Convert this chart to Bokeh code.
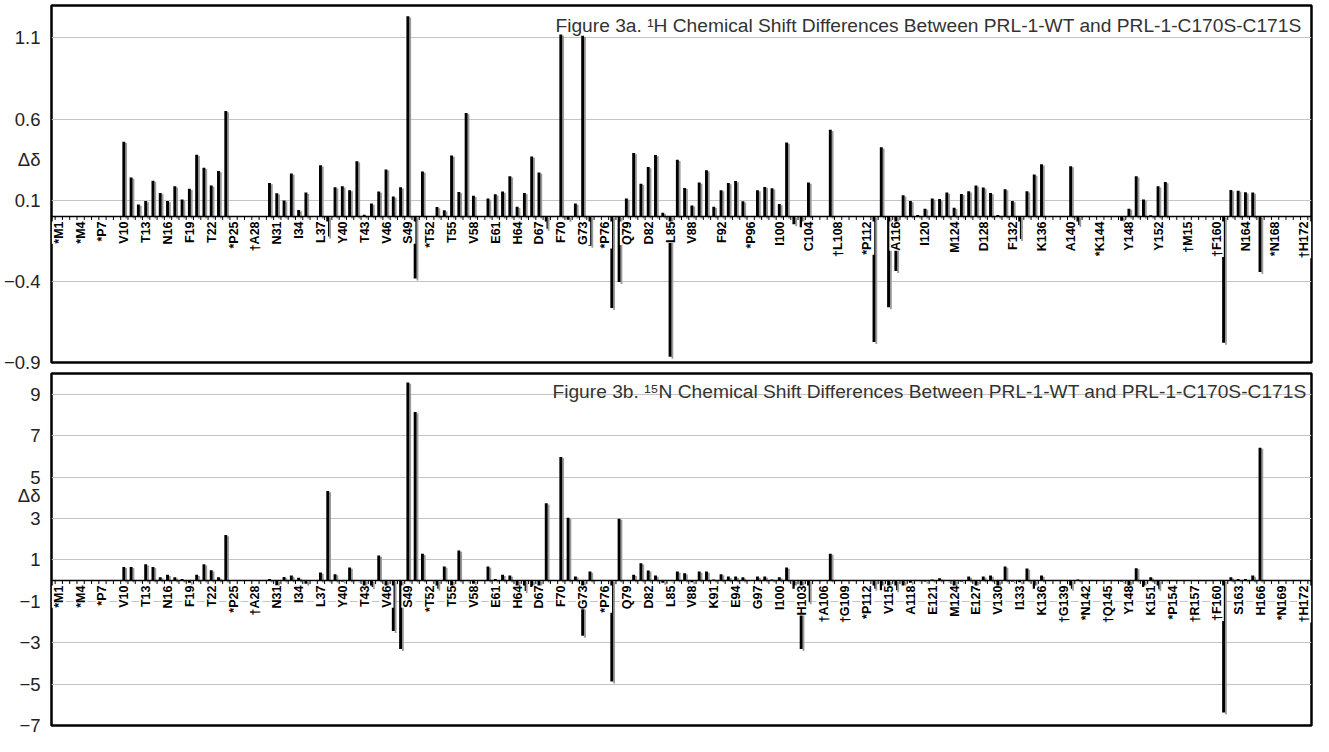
import numpy as np
from bokeh.plotting import figure
from bokeh.models import Range1d, FixedTicker, Span
from bokeh.layouts import column
from bokeh.embed import file_html
from bokeh.resources import INLINE
from bokeh.core.properties import value

# ---------------- data ----------------
residues = [10, 11, 12, 13, 14, 15, 16, 17, 18, 19, 20, 21, 22, 23, 24,
            30, 31, 32, 33, 34, 35,
            37, 38, 39, 40, 41, 42, 43, 44, 45, 46, 47, 48, 49, 50, 51,
            53, 54, 55, 56, 57, 58,
            60, 61, 62, 63, 64, 65, 66, 67, 68,
            70, 71, 72, 73, 74,
            77, 78, 79, 80, 81, 82, 83, 84, 85, 86, 87, 88, 89, 90, 91, 92, 93, 94, 95,
            97, 98, 99, 100, 101, 102, 103, 104,
            107,
            113, 114, 115, 116, 117, 118, 119, 120, 121, 122, 123, 124, 125, 126, 127, 128,
            129, 130, 131, 132, 133, 134, 135, 136,
            140, 141,
            147, 148, 149, 150, 151, 152, 153,
            161, 162, 163, 164, 165, 166]

h_shift = [0.46, 0.24, 0.074, 0.095, 0.22, 0.145, 0.095, 0.186, 0.105, 0.17, 0.38, 0.30, 0.19, 0.28, 0.65,
           0.206, 0.143, 0.099, 0.265, 0.04, 0.147,
           0.316, -0.123, 0.18, 0.186, 0.162, 0.34, 0.01, 0.08, 0.154, 0.29, 0.123, 0.18, 1.233, -0.383, 0.277,
           0.058, 0.038, 0.375, 0.151, 0.637, 0.127,
           0.111, 0.137, 0.154, 0.247, 0.06, 0.145, 0.369, 0.271, -0.076,
           1.121, -0.021, 0.08, 1.113, -0.18,
           -0.564, -0.404, 0.111, 0.391, 0.202, 0.304, 0.379, 0.023, -0.865, 0.349, 0.176, 0.068, 0.209,
           0.284, 0.06, 0.162, 0.206, 0.218, 0.093,
           0.162, 0.182, 0.174, 0.076, 0.456, -0.048, -0.066, 0.209,
           0.534,
           -0.773, 0.426, -0.56, -0.336, 0.131, 0.095, 0.009, 0.048, 0.111, 0.107, 0.147, 0.054, 0.139,
           0.155, 0.19, 0.178, 0.145, 0.009, 0.168, 0.095, -0.139, 0.155, 0.259, 0.322,
           0.31, -0.052,
           -0.027, 0.048, 0.247, 0.105, 0.007, 0.186, 0.212,
           -0.778, 0.163, 0.159, 0.149, 0.147, -0.342]

n_shift = [0.66, 0.66, 0.0, 0.79, 0.66, 0.16, 0.28, 0.16, 0.08, -0.11, 0.28, 0.79, 0.5, 0.16, 2.2,
           0.08, -0.24, 0.17, 0.24, 0.14, -0.16,
           0.39, 4.32, 0.31, -0.05, 0.63, 0.0, -0.55, -0.31, 1.21, -0.55, -2.44, -3.30, 9.56, 8.14, 1.29,
           -0.39, 0.68, -0.55, 1.45, 0.0, -0.16,
           0.68, 0.08, 0.28, 0.24, -0.39, -0.50, -0.31, -0.39, 3.73,
           5.97, 3.03, 0.2, -2.67, 0.44,
           -4.87, 2.99, 0.0, 0.28, 0.83, 0.49, 0.24, -0.11, 0.0, 0.44, 0.35, -0.08, 0.44, 0.44, 0.05,
           0.31, 0.19, 0.19, 0.16,
           0.19, 0.19, 0.05, 0.16, 0.63, -0.39, -3.30, -1.05,
           1.30,
           -0.39, -0.47, -0.55, -0.47, -0.24, -0.1, 0.0, -0.05, 0.05, 0.11, 0.0, -0.31, -0.05, 0.19,
           -0.28, 0.2, 0.24, -0.31, 0.68, -0.05, -0.08, 0.58, -0.39, 0.24,
           -0.39, 0.05,
           -0.05, -0.39, 0.6, -0.31, 0.16, -0.42, 0.0,
           -6.37, 0.16, 0.08, 0.08, 0.24, 6.42]

top_label_pos = [1, 4, 7, 10, 13, 16, 19, 22, 25, 28, 31, 34, 37, 40, 43, 46, 49, 52, 55, 58,
                 61, 64, 67, 70, 73, 76, 79, 82, 85, 88, 92, 96, 100, 104, 108, 112, 116, 120,
                 124, 128, 132, 136, 140, 144, 148, 152, 156, 160, 164, 168, 172]
top_label_txt = ["*M1", "*M4", "*P7", "V10", "T13", "N16", "F19", "T22", "*P25", "†A28",
                 "N31", "I34", "L37", "Y40", "T43", "V46", "S49", "*T52", "T55", "V58",
                 "E61", "H64", "D67", "F70", "G73", "*P76", "Q79", "D82", "L85", "V88",
                 "F92", "*P96", "I100", "C104", "†L108", "*P112", "A116", "I120", "M124", "D128",
                 "F132", "K136", "A140", "*K144", "Y148", "Y152", "†M15", "†F160", "N164", "*N168",
                 "†H172"]

bot_label_pos = [1, 4, 7, 10, 13, 16, 19, 22, 25, 28, 31, 34, 37, 40, 43, 46, 49, 52, 55, 58,
                 61, 64, 67, 70, 73, 76, 79, 82, 85, 88, 91, 94, 97, 100, 103, 106, 109, 112, 115,
                 118, 121, 124, 127, 130, 133, 136, 139, 142, 145, 148, 151, 154, 157, 160, 163,
                 166, 169, 172]
bot_label_txt = ["*M1", "*M4", "*P7", "V10", "T13", "N16", "F19", "T22", "*P25", "†A28",
                 "N31", "I34", "L37", "Y40", "T43", "V46", "S49", "*T52", "T55", "V58",
                 "E61", "H64", "D67", "F70", "G73", "*P76", "Q79", "D82", "L85", "V88",
                 "K91", "E94", "G97", "I100", "H103", "†A106", "†G109", "*P112", "V115", "A118",
                 "E121", "M124", "E127", "V130", "I133", "K136", "†G139", "*N142", "†Q145", "Y148",
                 "K151", "*P154", "†R157", "†F160", "S163", "H166", "*N169", "†H172"]

top_ticks = [-0.9, -0.4, 0.1, 0.6, 1.1]
bot_ticks = [-7, -5, -3, -1, 1, 3, 5, 7, 9]
top_title = "Figure 3a. ¹H Chemical Shift Differences Between PRL-1-WT and PRL-1-C170S-C171S"
bot_title = "Figure 3b. ¹⁵N Chemical Shift Differences Between PRL-1-WT and PRL-1-C170S-C171S"
axis_name = "Δδ"
top_name_at = 0.35
bot_name_at = 4.1

# ---------------- layout ----------------
X0, X1 = 0.0, 173.0
W = 1313
LEFT = 38
RIGHT = 2
FRAME_W = W - LEFT - RIGHT
PX_X = FRAME_W / (X1 - X0)


def panel(vals, ymin, ymax, ticks, lab_pos, lab_txt, title, title_dx, title_dy, name_at,
          frame_h, b_top, b_bot):
    px_y = frame_h / (ymax - ymin)
    p = figure(width=W, height=frame_h + b_top + b_bot, title=None,
               x_range=Range1d(X0, X1), y_range=Range1d(ymin, ymax),
               output_backend="svg", toolbar_location=None, x_axis_location=None,
               min_border_left=LEFT, min_border_right=RIGHT,
               min_border_top=b_top, min_border_bottom=b_bot)
    p.background_fill_color = "white"
    p.border_fill_color = "white"
    p.outline_line_color = "black"
    p.outline_line_width = 2.5

    # axis ticks (+ the Δδ name as an extra labelled tick), grid only on real ticks
    p.yaxis.ticker = FixedTicker(ticks=ticks + [name_at])
    p.yaxis.major_label_overrides = {name_at: axis_name}
    p.ygrid.ticker = FixedTicker(ticks=ticks)
    p.ygrid.grid_line_color = "#c4c4c4"
    p.ygrid.grid_line_width = 1.2
    p.xgrid.visible = False
    p.yaxis.axis_line_color = None
    p.yaxis.major_tick_line_color = None
    p.yaxis.minor_tick_line_color = None
    p.yaxis.major_label_standoff = 5
    p.yaxis.major_label_text_font = "Liberation Sans"
    p.yaxis.major_label_text_font_size = "18.5px"
    p.yaxis.major_label_text_color = "#222222"

    x = np.array(residues, dtype=float)
    v = np.array(vals, dtype=float)
    top = np.maximum(v, 0)
    bot = np.minimum(v, 0)
    # shadow
    p.quad(left=x + 0.13, right=x + 0.13 + 1.8 / PX_X,
           top=top - 1.2 / px_y, bottom=bot - 2.0 / px_y,
           fill_color="#9a9a9a", line_color=None)
    # bars
    p.quad(left=x - 0.27, right=x + 0.13, top=top, bottom=bot,
           fill_color="black", line_color=None)

    # zero axis and its ticks between residues
    p.add_layout(Span(location=0, dimension="width", line_color="black", line_width=1.6))
    tx = np.arange(0.5, 172.6, 1.0)
    p.segment(x0=tx, x1=tx, y0=np.zeros_like(tx), y1=np.full_like(tx, -3.5 / px_y),
              line_color="black", line_width=1)

    # residue labels
    p.text(x=lab_pos, y=[-5.0 / px_y] * len(lab_pos), text=lab_txt, angle=np.pi / 2,
           text_align="right", text_baseline="middle",
           text_font=value("Liberation Sans"), text_font_style="bold",
           text_font_size="12.5px", text_color="black",
           background_fill_color="white")

    # panel title (right-aligned inside the frame)
    p.text(x=[X1 - title_dx / PX_X], y=[ymax - title_dy / px_y], text=[title],
           text_align="right", text_baseline="alphabetic",
           text_font=value("Liberation Sans"), text_font_size="19.2px", text_color="#333333")
    return p


p1 = panel(h_shift, -0.9, 1.3, top_ticks, top_label_pos, top_label_txt, top_title, 10, 20,
           top_name_at, 357, 5, 10)
p2 = panel(n_shift, -7, 10, bot_ticks, bot_label_pos, bot_label_txt, bot_title, 5, 18,
           bot_name_at, 352, 1, 11)

layout = column(p1, p2)
open("out.html", "w").write(file_html(layout, INLINE))
